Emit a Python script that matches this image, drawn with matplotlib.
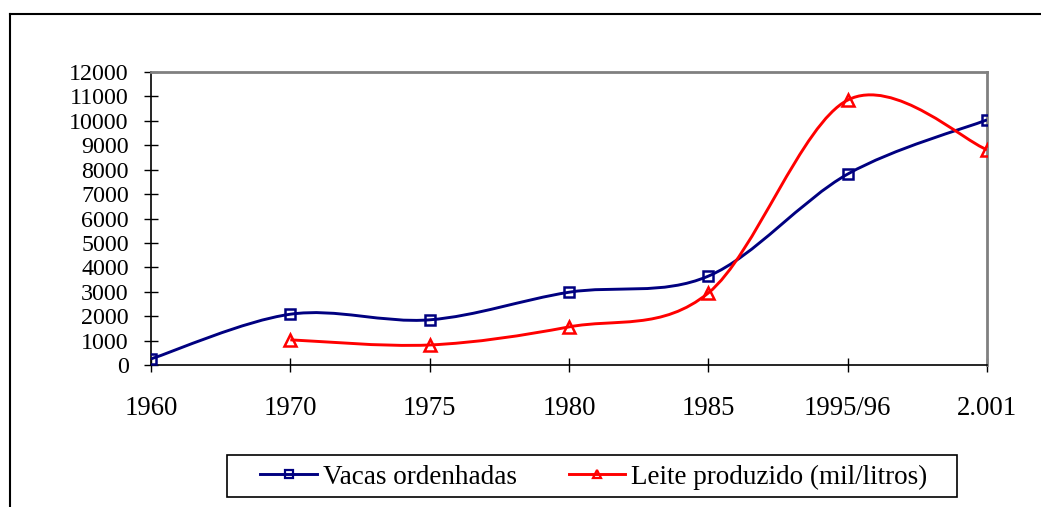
import numpy as np
import matplotlib.pyplot as plt
from matplotlib.path import Path
from matplotlib.patches import PathPatch, Rectangle
from matplotlib.lines import Line2D

# Data
categorias = ["1960", "1970", "1975", "1980", "1985", "1995/96", "2.001"]
vacas = [250, 2080, 1850, 2980, 3640, 7820, 10040]
leite_cat = ["1970", "1975", "1980", "1985", "1995/96", "2.001"]
leite = [1030, 820, 1560, 2950, 10850, 8820]

navy = "#000080"
red = "#FF0000"

plt.rcParams["font.family"] = ["Liberation Serif", "DejaVu Serif"]

fig = plt.figure(figsize=(10.41, 5.07), dpi=100)
ax = fig.add_axes([151 / 1041, 1 - 365 / 507, (987 - 151) / 1041, (365 - 72) / 507])


def smooth_path(xs, ys):
    # Excel-like smoothed line: cubic Bezier segments (Catmull-Rom control points)
    pts = np.column_stack([xs, ys]).astype(float)
    n = len(pts)
    verts = [pts[0]]
    codes = [Path.MOVETO]
    for i in range(n - 1):
        p0 = pts[i - 1] if i > 0 else pts[i]
        p1 = pts[i]
        p2 = pts[i + 1]
        p3 = pts[i + 2] if i + 2 < n else pts[i + 1]
        c1 = p1 + (p2 - p0) / 6.0
        c2 = p2 - (p3 - p1) / 6.0
        verts += [c1, c2, p2]
        codes += [Path.CURVE4] * 3
    return Path(verts, codes)


x_vacas = [categorias.index(c) for c in categorias]
x_leite = [categorias.index(c) for c in leite_cat]

for xs, ys, col in [(x_vacas, vacas, navy), (x_leite, leite, red)]:
    patch = PathPatch(smooth_path(xs, ys), facecolor="none", edgecolor=col,
                      linewidth=2.1, transform=ax.transData, zorder=3)
    ax.add_patch(patch)

ax.plot(x_vacas, vacas, linestyle="none", marker="s", markersize=7,
        markerfacecolor="none", markeredgecolor=navy, markeredgewidth=1.8, zorder=4)
ax.plot(x_leite, leite, linestyle="none", marker="^", markersize=8,
        markerfacecolor="none", markeredgecolor=red, markeredgewidth=1.8, zorder=4)

ax.set_xlim(0, len(categorias) - 1)
ax.set_ylim(0, 12000)
ax.set_xticks(range(len(categorias)))
ax.set_xticklabels(categorias)
ax.set_yticks(range(0, 12001, 1000))
ax.set_yticklabels([str(v) for v in range(0, 12001, 1000)])

ax.tick_params(axis="both", direction="inout", length=10, width=1, colors="black")
ax.tick_params(axis="x", pad=17, labelsize=19.3)
ax.tick_params(axis="y", pad=11, labelsize=17.3)

for side in ["top", "right"]:
    ax.spines[side].set_color("#808080")
    ax.spines[side].set_linewidth(2)
for side in ["left", "bottom"]:
    ax.spines[side].set_color("black")
    ax.spines[side].set_linewidth(1.2)

# outer chart border (only top and left are visible in the crop)
fig.add_artist(Line2D([10 / 1041, 1040 / 1041], [1 - 14 / 507, 1 - 14 / 507],
                      transform=fig.transFigure, color="black", linewidth=1.5))
fig.add_artist(Line2D([10 / 1041, 10 / 1041], [1 - 14 / 507, 0],
                      transform=fig.transFigure, color="black", linewidth=1.5))

handles = [
    Line2D([], [], color=navy, linewidth=2.1, marker="s", markersize=6,
           markerfacecolor="none", markeredgecolor=navy, markeredgewidth=1.6),
    Line2D([], [], color=red, linewidth=2.1, marker="^", markersize=6,
           markerfacecolor="none", markeredgecolor=red, markeredgewidth=1.6),
]
leg = fig.legend(handles, ["Vacas ordenhadas", "Leite produzido (mil/litros)"],
                 loc="center", bbox_to_anchor=(594 / 1041, 1 - 477 / 507), ncol=2,
                 fontsize=19.5, frameon=False,
                 handlelength=2.1, handletextpad=0.22, columnspacing=1.9,
                 borderpad=0.3, borderaxespad=0)

# legend box
fig.add_artist(Rectangle((227 / 1041, 1 - 497 / 507), (957 - 227) / 1041, 42 / 507,
                         transform=fig.transFigure, facecolor="none",
                         edgecolor="black", linewidth=1.2))

fig.savefig("out.png", dpi=100)
